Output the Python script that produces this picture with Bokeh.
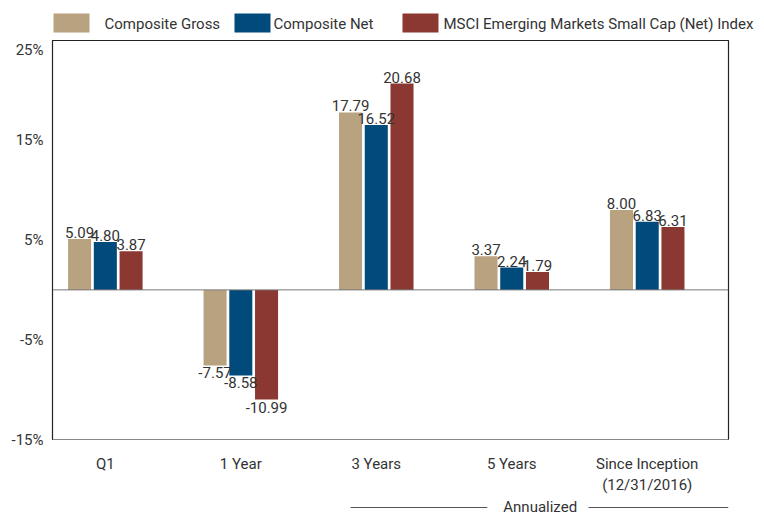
from bokeh.plotting import figure
from bokeh.models import ColumnDataSource, Range1d, FixedTicker, Span
from bokeh.layouts import column, row
from bokeh.transform import dodge
from bokeh.embed import file_html
from bokeh.resources import INLINE
from bokeh.core.properties import value

categories = ["Q1", "1 Year", "3 Years", "5 Years", "Since Inception\n(12/31/2016)"]
composite_gross = [5.09, -7.57, 17.79, 3.37, 8.00]
composite_net = [4.80, -8.58, 16.52, 2.24, 6.83]
msci_index = [3.87, -10.99, 20.68, 1.79, 6.31]
series_names = ["Composite Gross", "Composite Net", "MSCI Emerging Markets Small Cap (Net) Index"]
y_ticks = [-15, -5, 5, 15, 25]
annualized_label = "Annualized"

FONT = "Roboto"
TXT = "#333333"
colors = ["#B8A280", "#014A7C", "#8A3831"]
offsets = [-0.19, 0.0, 0.19]
W = 764

# ---------------- top strip: legend ----------------
leg_box_left = [53, 234, 402]
leg_box_w = 36
leg_text_left = [104, 273, 443]
top = figure(width=W, height=40, output_backend="svg", toolbar_location=None,
             x_range=Range1d(0, W), y_range=Range1d(40, 0),
             min_border_left=0, min_border_right=0, min_border_top=0, min_border_bottom=0)
if "frame_align" in top.properties():
    top.frame_align = False
top.axis.visible = False
top.grid.visible = False
top.outline_line_color = None
top.quad(left=leg_box_left, right=[l + leg_box_w for l in leg_box_left],
         top=[13] * 3, bottom=[32] * 3, fill_color=colors, line_color=None)
top.text(x=leg_text_left, y=[23] * 3, text=series_names, text_align="left",
         text_baseline="middle", text_font=value(FONT), text_font_size="15px", text_color=TXT)

# ---------------- main chart ----------------
x_idx = list(range(len(categories)))
src = ColumnDataSource(dict(x=x_idx, gross=composite_gross, net=composite_net, idx=msci_index))
xr = Range1d(-0.39, 4.6)

p = figure(frame_width=676, frame_height=399, output_backend="svg", toolbar_location=None,
           x_range=xr, y_range=Range1d(-15, 25),
           min_border_left=52, min_border_right=36, min_border_bottom=50, min_border_top=0)
p.background_fill_color = "white"
p.border_fill_color = "white"
p.outline_line_color = "#222222"
p.outline_line_width = 1.2
p.xgrid.visible = False
p.ygrid.visible = False

for f, c, off in zip(["gross", "net", "idx"], colors, offsets):
    p.vbar(x=dodge("x", off, range=p.x_range), top=f, bottom=0, width=0.17,
           source=src, fill_color=c, line_color=None)

p.add_layout(Span(location=0, dimension="width", line_color="#777777", line_width=1))

# value labels
for vals, off in zip([composite_gross, composite_net, msci_index], offsets):
    pos = [(i + off, v, f"{v:.2f}") for i, v in enumerate(vals) if v >= 0]
    neg = [(i + off, v, f"{v:.2f}") for i, v in enumerate(vals) if v < 0]
    if pos:
        ps = ColumnDataSource(dict(x=[a for a, _, _ in pos], y=[b for _, b, _ in pos], t=[c for _, _, c in pos]))
        p.text(x="x", y="y", text="t", source=ps, text_align="center", text_baseline="bottom",
               y_offset=-1, text_font=value(FONT), text_font_size="15px", text_color=TXT)
    if neg:
        ns = ColumnDataSource(dict(x=[a for a, _, _ in neg], y=[b for _, b, _ in neg], t=[c for _, _, c in neg]))
        p.text(x="x", y="y", text="t", source=ns, text_align="center", text_baseline="top",
               y_offset=2, text_font=value(FONT), text_font_size="15px", text_color=TXT)

p.yaxis.ticker = FixedTicker(ticks=y_ticks)
p.yaxis.major_label_overrides = {t: f"{t}%" for t in y_ticks}
p.yaxis.major_tick_line_color = None
p.yaxis.minor_tick_line_color = None
p.yaxis.axis_line_color = "#222222"
p.yaxis.major_label_text_font = FONT
p.yaxis.major_label_text_font_size = "15px"
p.yaxis.major_label_text_color = TXT
p.yaxis.major_label_standoff = 3

p.xaxis.ticker = FixedTicker(ticks=x_idx)
p.xaxis.major_label_overrides = {i: c for i, c in enumerate(categories)}
p.xaxis.major_tick_line_color = None
p.xaxis.minor_tick_line_color = None
p.xaxis.axis_line_color = "#888888"
p.xaxis.major_label_text_font = FONT
p.xaxis.major_label_text_font_size = "15px"
p.xaxis.major_label_text_color = TXT
p.xaxis.major_label_standoff = 9

# ---------------- bottom strip: "Annualized" bracket ----------------
ann_lines = [(1.81, 2.82), (3.567, 4.6)]
ann_center = 3.21
bot = figure(width=W, height=17, output_backend="svg", toolbar_location=None,
             x_range=xr, y_range=Range1d(17, 0),
             min_border_left=52, min_border_right=36, min_border_bottom=0, min_border_top=0)
bot.axis.visible = False
bot.grid.visible = False
bot.outline_line_color = None
bot.segment(x0=[a for a, _ in ann_lines], x1=[b for _, b in ann_lines],
            y0=[10, 10], y1=[10, 10], line_color="#555555", line_width=1)
bot.text(x=[ann_center], y=[9], text=[annualized_label], text_align="center",
         text_baseline="middle", text_font=value(FONT), text_font_size="15px", text_color=TXT)

layout = column(row(top), p, bot, spacing=0)
open("out.html", "w").write(file_html(layout, INLINE))
